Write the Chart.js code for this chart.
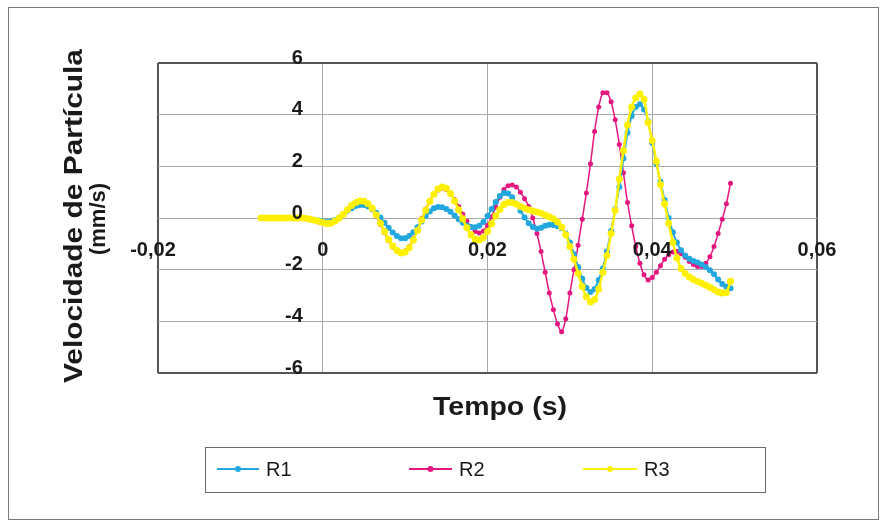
<!DOCTYPE html>
<html><head><meta charset="utf-8">
<script src="https://cdn.jsdelivr.net/npm/chart.js@4.4.0/dist/chart.umd.min.js"></script>
<style>html,body{margin:0;padding:0;background:#fff}#wrap{width:881px;height:525px;position:relative}</style>
</head><body><div id="wrap"><canvas id="c" width="881" height="525"></canvas></div>
<script>
const TIME = [-0.0075,-0.007,-0.0065,-0.006,-0.0055,-0.005,-0.0045,-0.004,-0.0035,-0.003,
-0.0025,-0.002,-0.0015,-0.001,-0.0005,0,0.0005,0.001,0.0015,0.002,
0.0025,0.003,0.0035,0.004,0.0045,0.005,0.0055,0.006,0.0065,0.007,
0.0075,0.008,0.0085,0.009,0.0095,0.01,0.0105,0.011,0.0115,0.012,
0.0125,0.013,0.0135,0.014,0.0145,0.015,0.0155,0.016,0.0165,0.017,
0.0175,0.018,0.0185,0.019,0.0195,0.02,0.0205,0.021,0.0215,0.022,
0.0225,0.023,0.0235,0.024,0.0245,0.025,0.0255,0.026,0.0265,0.027,
0.0275,0.028,0.0285,0.029,0.0295,0.03,0.0305,0.031,0.0315,0.032,
0.0325,0.033,0.0335,0.034,0.0345,0.035,0.0355,0.036,0.0365,0.037,
0.0375,0.038,0.0385,0.039,0.0395,0.04,0.0405,0.041,0.0415,0.042,
0.0425,0.043,0.0435,0.044,0.0445,0.045,0.0455,0.046,0.0465,0.047,
0.0475,0.048,0.0485,0.049,0.0495];

const R1 = [0,0,0,0,0,0,0,0,0,0,0,
-0.02,-0.04,-0.07,-0.1,-0.13,-0.15,-0.14,-0.08,0.02,0.15,
0.28,0.38,0.46,0.5,0.5,0.45,0.35,0.2,0.02,-0.18,
-0.38,-0.56,-0.7,-0.78,-0.78,-0.7,-0.55,-0.36,-0.14,0.08,
0.25,0.38,0.43,0.42,0.35,0.24,0.1,-0.05,-0.18,-0.29,
-0.35,-0.36,-0.3,-0.15,0.08,0.35,0.62,0.85,0.97,0.95,
0.8,0.55,0.28,0.02,-0.2,-0.35,-0.42,-0.38,-0.3,-0.26,
-0.27,-0.32,-0.4,-0.6,-0.95,-1.4,-1.9,-2.35,-2.7,-2.86,
-2.75,-2.4,-1.95,-1.3,-0.5,0.35,1.2,2.3,3.3,3.95,
4.3,4.4,4.2,3.75,2.9,2.1,1.4,0.7,0.0,-0.55,
-0.95,-1.25,-1.45,-1.58,-1.66,-1.72,-1.8,-1.9,-2.02,-2.18,
-2.38,-2.55,-2.66,-2.72];

const R2 = [0,0,0,0,0,0,0,0,0,0,0,
-0.03,-0.07,-0.11,-0.15,-0.19,-0.22,-0.2,-0.12,0.0,0.15,
0.3,0.45,0.57,0.62,0.6,0.5,0.32,0.07,-0.25,-0.57,
-0.88,-1.12,-1.28,-1.33,-1.28,-1.1,-0.8,-0.42,-0.02,0.35,
0.68,0.92,1.08,1.15,1.1,0.95,0.72,0.45,0.15,-0.12,
-0.35,-0.52,-0.58,-0.5,-0.28,0.05,0.42,0.8,1.1,1.25,
1.28,1.2,1.0,0.75,0.45,0.0,-0.6,-1.3,-2.1,-2.9,
-3.55,-4.1,-4.4,-3.9,-2.9,-2.0,-1.05,-0.05,0.97,2.1,
3.35,4.3,4.85,4.85,4.5,3.8,2.85,1.75,0.6,-0.3,
-1.1,-1.75,-2.2,-2.4,-2.3,-2.1,-1.85,-1.6,-1.42,-1.32,
-1.3,-1.38,-1.52,-1.68,-1.8,-1.88,-1.88,-1.75,-1.5,-1.1,
-0.6,-0.05,0.55,1.35];

const R3 = [0,0,0,0,0,0,0,0,0,0,0,
-0.02,-0.05,-0.09,-0.13,-0.17,-0.21,-0.2,-0.12,0.0,0.15,
0.32,0.48,0.6,0.66,0.65,0.55,0.38,0.12,-0.2,-0.52,
-0.83,-1.08,-1.26,-1.35,-1.32,-1.15,-0.85,-0.48,-0.08,0.3,
0.65,0.92,1.12,1.2,1.15,0.95,0.66,0.32,-0.03,-0.38,
-0.65,-0.82,-0.85,-0.75,-0.52,-0.22,0.08,0.33,0.52,0.6,
0.6,0.53,0.45,0.38,0.32,0.27,0.23,0.18,0.12,0.05,
-0.03,-0.15,-0.35,-0.65,-1.1,-1.6,-2.15,-2.65,-3.05,-3.25,
-3.15,-2.75,-2.1,-1.45,-0.6,0.3,1.5,2.6,3.6,4.3,
4.65,4.8,4.6,3.7,3.0,2.2,1.3,0.55,-0.2,-0.95,
-1.55,-1.95,-2.15,-2.28,-2.38,-2.46,-2.53,-2.6,-2.68,-2.78,
-2.86,-2.9,-2.88,-2.45];

const SERIES_NAMES = ['R1','R2','R3'];
const X_TICKS = [-0.02, 0, 0.02, 0.04, 0.06];
const X_TICK_LABELS = ['-0,02','0','0,02','0,04','0,06'];
const Y_TICKS = [-6, -4, -2, 0, 2, 4, 6];
const Y_TICK_LABELS = ['-6','-4','-2','0','2','4','6'];
const X_TITLE = 'Tempo (s)';
const Y_TITLE = ['Velocidade de Partícula', '(mm/s)'];

const COLORS = ['#22a7df', '#e3177f', '#fff000'];
const FONT = "'Liberation Sans', Arial, Helvetica, sans-serif";

function pts(vals){ return TIME.map((t,i)=>({x:t, y:vals[i]})); }

// draw text stretched along its direction to a given length
function fitText(c, text, cx, cy, angle, targetLen){
  const w = c.measureText(text).width;
  c.save();
  c.translate(cx, cy); c.rotate(angle);
  c.scale(targetLen / w, 1);
  c.fillText(text, 0, 0);
  c.restore();
}

const decor = {
  id: 'decor',
  beforeDraw(chart){
    const c = chart.ctx;
    c.save();
    c.fillStyle = '#ffffff';
    c.fillRect(0,0,chart.width,chart.height);
    c.strokeStyle = '#7a7a7a';
    c.lineWidth = 1;
    c.strokeRect(8.5, 7.5, 870, 512);
    c.restore();
  },
  afterDatasetsDraw(chart){
    const c = chart.ctx;
    const xs = chart.scales.x, ys = chart.scales.y;
    const x0 = xs.getPixelForValue(0), y0 = ys.getPixelForValue(0);
    c.save();
    c.fillStyle = '#1a1a1a';
    c.font = 'bold 20px ' + FONT;
    c.textAlign = 'right'; c.textBaseline = 'middle';
    Y_TICKS.forEach((v,i)=>{
      c.fillText(Y_TICK_LABELS[i], x0 - 20, ys.getPixelForValue(v) - 5);
    });
    c.textAlign = 'center';
    X_TICKS.forEach((v,i)=>{
      const lbl = X_TICK_LABELS[i];
      const dx = lbl.charAt(0) === '-' ? -5 : 0;
      c.fillText(lbl, xs.getPixelForValue(v) + dx, y0 + 32);
    });
    // titles
    c.font = 'bold 26px ' + FONT;
    fitText(c, X_TITLE, 500, 408, 0, 134);
    c.font = 'bold 25px ' + FONT;
    fitText(c, Y_TITLE[0], 75, 216, -Math.PI/2, 334);
    c.font = 'bold 22px ' + FONT;
    c.save();
    c.translate(99, 219); c.rotate(-Math.PI/2);
    c.fillText(Y_TITLE[1], 0, 0);
    c.restore();
    // legend
    c.strokeStyle = '#6a6a6a'; c.lineWidth = 1;
    c.strokeRect(205.5, 447.5, 560, 45);
    const items = [[217,259,266],[409,452,459],[583,637,644]];
    c.font = '20px ' + FONT; c.textAlign = 'left'; c.fillStyle = '#1a1a1a';
    items.forEach((it,i)=>{
      const ly = 469;
      c.strokeStyle = COLORS[i]; c.lineWidth = 2;
      c.beginPath(); c.moveTo(it[0], ly); c.lineTo(it[1], ly); c.stroke();
      c.fillStyle = COLORS[i];
      c.beginPath(); c.arc((it[0]+it[1])/2, ly, 3, 0, Math.PI*2); c.fill();
      c.fillStyle = '#1a1a1a';
      c.fillText(SERIES_NAMES[i], it[2], ly + 1);
    });
    c.restore();
  }
};

function gridColor(min, max){
  return ctx => {
    const v = ctx.tick ? ctx.tick.value : 0;
    return (Math.abs(v-min)<1e-9 || Math.abs(v-max)<1e-9) ? '#555555' : '#a8a8a8';
  };
}
function gridWidth(min, max){
  return ctx => {
    const v = ctx.tick ? ctx.tick.value : 0;
    return (Math.abs(v-min)<1e-9 || Math.abs(v-max)<1e-9) ? 2 : 1;
  };
}

new Chart(document.getElementById('c'), {
  type: 'line',
  data: {
    datasets: [
      { label: SERIES_NAMES[0], data: pts(R1), borderColor: COLORS[0], backgroundColor: COLORS[0],
        borderWidth: 2, pointRadius: 3, pointBorderWidth: 0, pointBackgroundColor: COLORS[0], tension: 0.3, order: 1 },
      { label: SERIES_NAMES[1], data: pts(R2), borderColor: COLORS[1], backgroundColor: COLORS[1],
        borderWidth: 1.5, pointRadius: 2.5, pointBorderWidth: 0, pointBackgroundColor: COLORS[1], tension: 0.3, order: 2 },
      { label: SERIES_NAMES[2], data: pts(R3), borderColor: COLORS[2], backgroundColor: COLORS[2],
        borderWidth: 2.5, pointRadius: 3.5, pointBorderWidth: 0, pointBackgroundColor: COLORS[2], tension: 0.3, order: 0 }
    ]
  },
  options: {
    responsive: false, devicePixelRatio: 1, animation: false,
    layout: { padding: { left: 158, right: 64, top: 63, bottom: 152 } },
    plugins: { legend: { display: false }, tooltip: { enabled: false } },
    scales: {
      x: {
        type: 'linear', min: -0.02, max: 0.06,
        afterBuildTicks: s => { s.ticks = X_TICKS.map(v => ({value: v})); },
        afterFit: s => { s.height = 0; },
        ticks: { display: false },
        grid: { drawTicks: false, color: gridColor(-0.02, 0.06), lineWidth: gridWidth(-0.02, 0.06) },
        border: { display: false }
      },
      y: {
        type: 'linear', min: -6, max: 6,
        afterBuildTicks: s => { s.ticks = Y_TICKS.map(v => ({value: v})); },
        afterFit: s => { s.width = 0; },
        ticks: { display: false },
        grid: { drawTicks: false, color: gridColor(-6, 6), lineWidth: gridWidth(-6, 6) },
        border: { display: false }
      }
    }
  },
  plugins: [decor]
});
</script></body></html>
